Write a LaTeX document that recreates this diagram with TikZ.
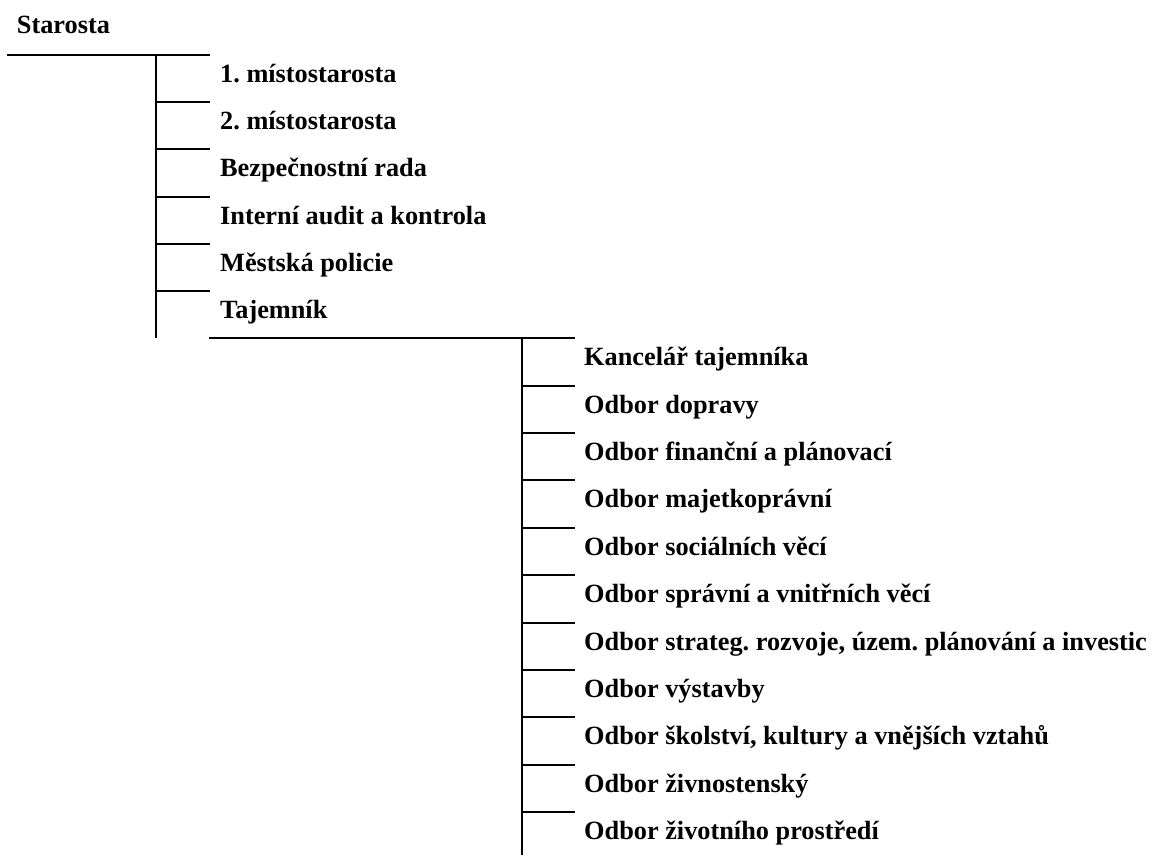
\documentclass[tikz,border=0pt]{standalone}
\usepackage{fontspec}
\setmainfont{Liberation Serif}
\frenchspacing
\begin{document}
\begin{tikzpicture}[x=1pt,y=-1pt,
  lbl/.style={anchor=base west,inner sep=0pt,font=\fontsize{26.3}{31}\selectfont\bfseries},
  ln/.style={line width=2pt}]
\useasboundingbox (0,0) rectangle (1159,855);
\node[lbl] (star) at (16.7,33.5) {Starosta};
% first level
\coordinate (a0) at (7,55);
\coordinate (v1) at (156,55);
\coordinate (a1e) at (210,55);
\draw[ln] (a0) -- (a1e);
\foreach \i/\t [count=\k from 0] in {m1/{1. místostarosta},m2/{2. místostarosta},br/{Bezpečnostní rada},ia/{Interní audit a kontrola},mp/{Městská policie},taj/{Tajemník}}{
  \coordinate (l\i) at (156,55+47.2*\k);
  \coordinate (r\i) at (210,55+47.2*\k);
  \node[lbl] (\i) at (220,55+47.2*\k+27.5) {\t};
  \draw[ln] (l\i) -- (r\i);
}
\coordinate (v1end) at (156,338.2);
\draw[ln] (v1) -- (v1end);
% second level
\coordinate (b0) at (209,338.2);
\coordinate (b0e) at (575,338.2);
\draw[ln] (b0) -- (b0e);
\foreach \i/\t [count=\k from 0] in {kt/{Kancelář tajemníka},od/{Odbor dopravy},ofp/{Odbor finanční a plánovací},om/{Odbor majetkoprávní},os/{Odbor sociálních věcí},osv/{Odbor správní a vnitřních věcí},osr/{Odbor strateg. rozvoje, územ. plánování a investic},ov/{Odbor výstavby},osk/{Odbor školství, kultury a vnějších vztahů},oz/{Odbor živnostenský},ozp/{Odbor životního prostředí}}{
  \coordinate (l\i) at (522,338.2+47.4*\k);
  \coordinate (r\i) at (575,338.2+47.4*\k);
  \node[lbl] (\i) at (584,338.2+47.4*\k+27.5) {\t};
  \draw[ln] (l\i) -- (r\i);
}
\coordinate (v2) at (522,338.2);
\coordinate (v2end) at (522,855);
\draw[ln] (v2) -- (v2end);
\end{tikzpicture}
\end{document}
